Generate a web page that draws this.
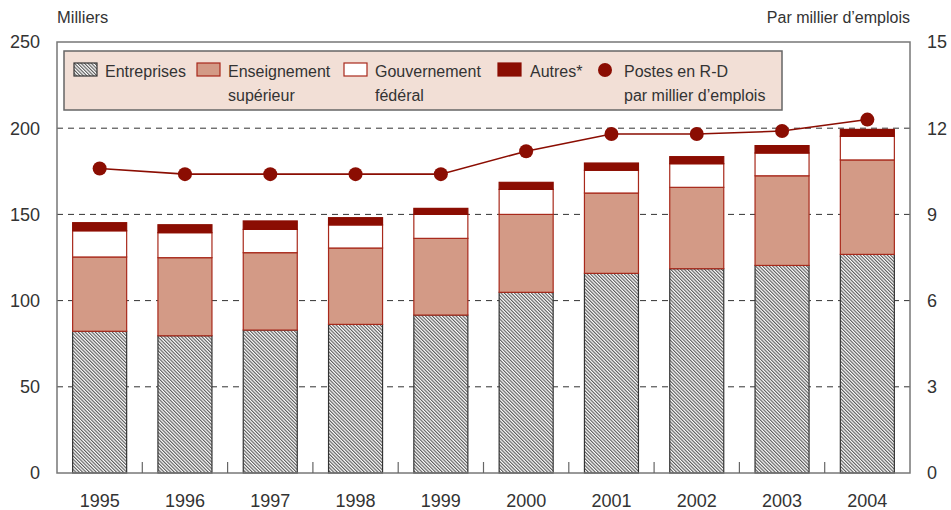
<!DOCTYPE html>
<html>
<head>
<meta charset="utf-8">
<script src="https://cdn.jsdelivr.net/npm/d3@7"></script>
<style>
  body { margin: 0; background: #fff; }
  text { font-family: "Liberation Sans", Arial, sans-serif; fill: #333; }
</style>
</head>
<body>
<div id="chart"></div>
<script>
const years = ["1995", "1996", "1997", "1998", "1999", "2000", "2001", "2002", "2003", "2004"];
const entreprises = [82.2, 79.6, 82.9, 86.2, 91.6, 104.8, 115.8, 118.5, 120.4, 126.8];
const enseignement = [43.1, 45.3, 44.9, 44.3, 44.5, 45.2, 46.6, 47.2, 52.0, 54.8];
const gouvernement = [15.2, 14.5, 13.5, 13.4, 13.9, 14.5, 13.2, 13.7, 13.2, 13.7];
const autres = [4.7, 4.6, 4.9, 4.2, 3.5, 4.1, 4.2, 4.1, 4.3, 4.0];
const postes = [10.6, 10.4, 10.4, 10.4, 10.4, 11.2, 11.8, 11.8, 11.9, 12.3];
const leftTicks = [0, 50, 100, 150, 200, 250];
const rightTicks = [0, 3, 6, 9, 12, 15];

const width = 951;
const height = 510;
const margin = { left: 57, right: 41, top: 42, bottom: 37 };
const darkRed = "#8b0d02";
const pink = "#d39a86";

const svg = d3
  .select("#chart")
  .append("svg")
  .attr("width", width)
  .attr("height", height);

const defs = svg.append("defs");
const hatch = defs
  .append("pattern")
  .attr("id", "hatch")
  .attr("patternUnits", "userSpaceOnUse")
  .attr("width", 2.4)
  .attr("height", 10)
  .attr("patternTransform", "rotate(-45)");
hatch.append("rect").attr("width", 2.4).attr("height", 10).attr("fill", "#fff");
hatch
  .append("line")
  .attr("x1", 0.6)
  .attr("x2", 0.6)
  .attr("y1", 0)
  .attr("y2", 10)
  .attr("stroke", "#444")
  .attr("stroke-width", 1);

const x = d3
  .scaleBand()
  .domain(years)
  .range([margin.left, width - margin.right])
  .paddingInner(0.355)
  .paddingOuter(0.1775);

const y = d3
  .scaleLinear()
  .domain([0, 250])
  .range([height - margin.bottom, margin.top]);

const y2 = d3
  .scaleLinear()
  .domain([0, 15])
  .range([height - margin.bottom, margin.top]);

// dashed grid
svg
  .append("g")
  .selectAll("line")
  .data(leftTicks.filter((d) => d > 0 && d < 250))
  .join("line")
  .attr("x1", margin.left)
  .attr("x2", width - margin.right)
  .attr("y1", (d) => y(d))
  .attr("y2", (d) => y(d))
  .attr("stroke", "#333")
  .attr("stroke-width", 1)
  .attr("stroke-dasharray", "6,5");

// stacked bars
const seriesDefs = [
  { key: "ent", values: entreprises, fill: "url(#hatch)", stroke: "#333" },
  { key: "ens", values: enseignement, fill: pink, stroke: "#a8291b" },
  { key: "gouv", values: gouvernement, fill: "#fff", stroke: "#a8291b" },
  { key: "aut", values: autres, fill: darkRed, stroke: darkRed },
];

const rows = years.map((yr, i) => {
  const r = { year: yr };
  seriesDefs.forEach((s) => (r[s.key] = s.values[i]));
  return r;
});

const stacked = d3.stack().keys(seriesDefs.map((s) => s.key))(rows);

svg
  .append("g")
  .selectAll("g")
  .data(stacked)
  .join("g")
  .attr("fill", (d, i) => seriesDefs[i].fill)
  .attr("stroke", (d, i) => seriesDefs[i].stroke)
  .selectAll("rect")
  .data((d) => d)
  .join("rect")
  .attr("x", (d) => x(d.data.year) + 0.5)
  .attr("width", x.bandwidth() - 1)
  .attr("y", (d) => y(d[1]))
  .attr("height", (d) => y(d[0]) - y(d[1]))
  .attr("stroke-width", 1.2);

// frame
svg
  .append("rect")
  .attr("x", margin.left)
  .attr("y", margin.top)
  .attr("width", width - margin.left - margin.right)
  .attr("height", height - margin.top - margin.bottom)
  .attr("fill", "none")
  .attr("stroke", "#777")
  .attr("stroke-width", 1.5);

// x ticks between bars
svg
  .append("g")
  .selectAll("line")
  .data(years.slice(1))
  .join("line")
  .attr("x1", (d) => x(d) - (x.step() - x.bandwidth()) / 2)
  .attr("x2", (d) => x(d) - (x.step() - x.bandwidth()) / 2)
  .attr("y1", y(0))
  .attr("y2", y(0) - 11)
  .attr("stroke", "#666")
  .attr("stroke-width", 1.2);

// axis labels
svg
  .append("g")
  .selectAll("text")
  .data(leftTicks)
  .join("text")
  .attr("x", 40)
  .attr("y", (d) => y(d))
  .attr("dy", "0.36em")
  .attr("text-anchor", "end")
  .style("font-size", "18px")
  .text((d) => d);

svg
  .append("g")
  .selectAll("text")
  .data(rightTicks)
  .join("text")
  .attr("x", 927)
  .attr("y", (d) => y2(d))
  .attr("dy", "0.36em")
  .style("font-size", "18px")
  .text((d) => d);

svg
  .append("g")
  .selectAll("text")
  .data(years)
  .join("text")
  .attr("x", (d) => x(d) + x.bandwidth() / 2)
  .attr("y", 507)
  .attr("text-anchor", "middle")
  .style("font-size", "18px")
  .text((d) => d);

svg
  .append("text")
  .attr("x", 57)
  .attr("y", 23)
  .style("font-size", "16.5px")
  .text("Milliers");

svg
  .append("text")
  .attr("x", 910)
  .attr("y", 23)
  .attr("text-anchor", "end")
  .style("font-size", "16px")
  .text("Par millier d\u2019emplois");

// line + dots
const line = d3
  .line()
  .x((d, i) => x(years[i]) + x.bandwidth() / 2)
  .y((d) => y2(d));

svg
  .append("path")
  .datum(postes)
  .attr("d", line)
  .attr("fill", "none")
  .attr("stroke", darkRed)
  .attr("stroke-width", 1.6);

svg
  .append("g")
  .selectAll("circle")
  .data(postes)
  .join("circle")
  .attr("cx", (d, i) => x(years[i]) + x.bandwidth() / 2)
  .attr("cy", (d) => y2(d))
  .attr("r", 7)
  .attr("fill", darkRed);

// legend
const legend = svg.append("g");
legend
  .append("rect")
  .attr("x", 64)
  .attr("y", 51)
  .attr("width", 718)
  .attr("height", 59)
  .attr("fill", "#f2dfd6")
  .attr("stroke", "#666")
  .attr("stroke-width", 1.5);

const legendItems = [
  { sx: 74, tx: 105, lines: ["Entreprises"], fill: "url(#hatch)", stroke: "#333" },
  { sx: 197, tx: 228, lines: ["Enseignement", "supérieur"], fill: pink, stroke: "#a8291b" },
  { sx: 344, tx: 375, lines: ["Gouvernement", "fédéral"], fill: "#fff", stroke: "#a8291b" },
  { sx: 498, tx: 530, lines: ["Autres*"], fill: darkRed, stroke: darkRed },
];

legendItems.forEach((it) => {
  legend
    .append("rect")
    .attr("x", it.sx)
    .attr("y", 63)
    .attr("width", 23)
    .attr("height", 13)
    .attr("fill", it.fill)
    .attr("stroke", it.stroke)
    .attr("stroke-width", 1.2);
  legend
    .append("text")
    .attr("x", it.tx)
    .attr("y", 77)
    .style("font-size", "16px")
    .selectAll("tspan")
    .data(it.lines)
    .join("tspan")
    .attr("x", it.tx)
    .attr("dy", (d, i) => (i === 0 ? 0 : 24))
    .text((d) => d);
});

legend
  .append("circle")
  .attr("cx", 605)
  .attr("cy", 70)
  .attr("r", 7)
  .attr("fill", darkRed);

legend
  .append("text")
  .attr("x", 624)
  .attr("y", 77)
  .style("font-size", "16px")
  .selectAll("tspan")
  .data(["Postes en R-D", "par millier d\u2019emplois"])
  .join("tspan")
  .attr("x", 624)
  .attr("dy", (d, i) => (i === 0 ? 0 : 24))
  .text((d) => d);
</script>
</body>
</html>
